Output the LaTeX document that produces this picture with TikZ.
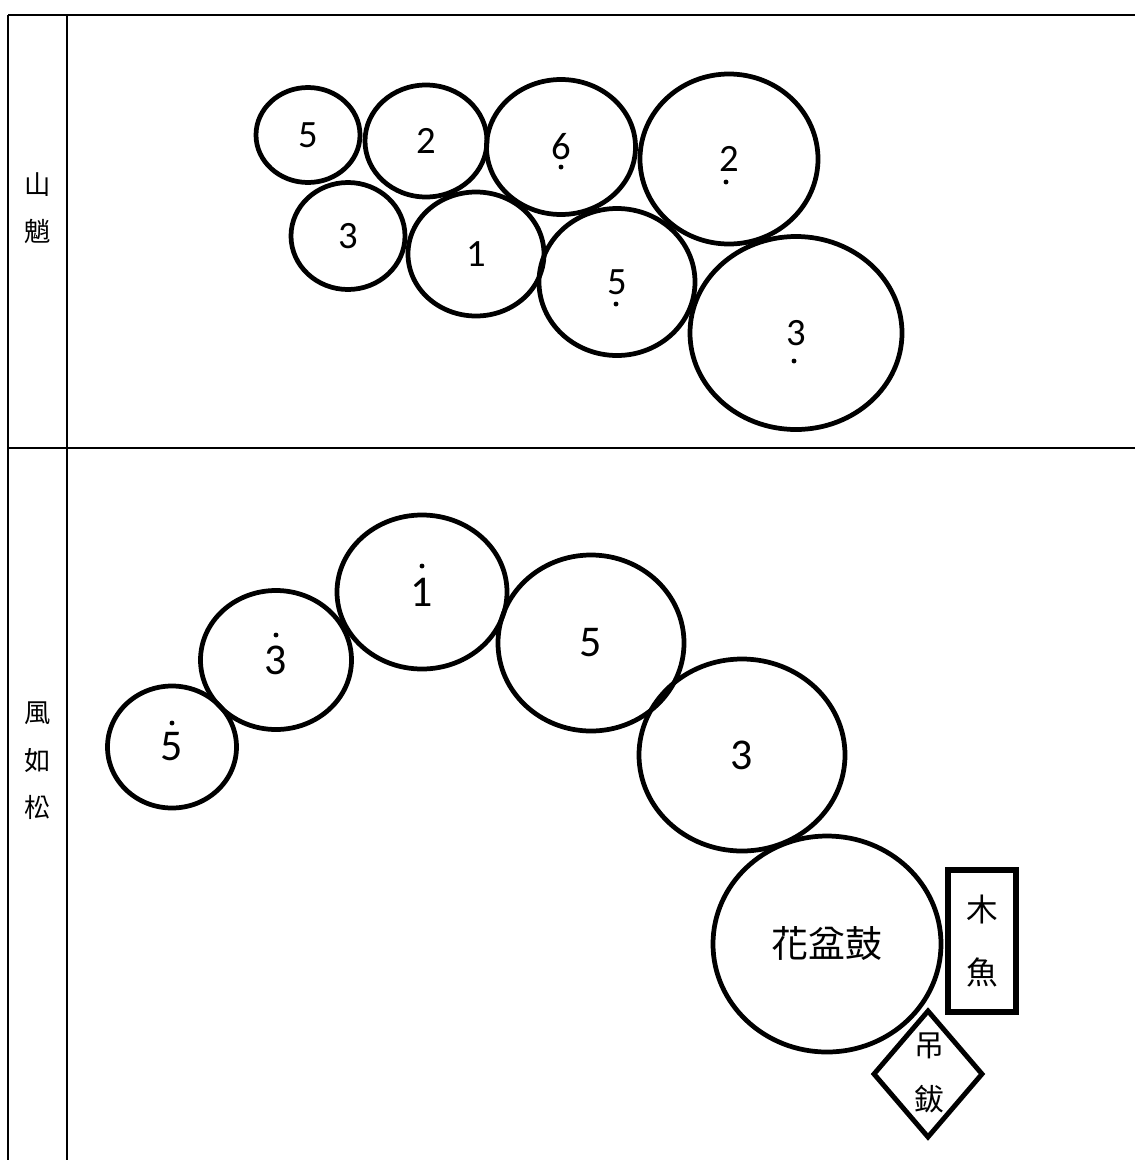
\documentclass[tikz,border=0pt]{standalone}
\usepackage{fontspec}
\setmainfont{Carlito}
\newfontfamily\cjk{Noto Sans CJK TC}
\usetikzlibrary{shapes.geometric,calc}

\begin{document}
\begin{tikzpicture}[x=0.02cm,y=-0.02cm,
    ring/.style 2 args={ellipse, draw, line width=2.7pt, inner sep=0pt,
        minimum width=#1*0.02cm, minimum height=#2*0.02cm,
        font=\fontsize{22}{22}\selectfont},
    bigdigit/.style={font=\fontsize{25}{25}\selectfont},
    rowlabel/.style={align=center, font=\cjk\fontsize{15}{27}\selectfont},
    rule/.style={line width=1.2pt}]
    \useasboundingbox (0,0) rectangle (1135,1160);

    % 1. Table rules
    \draw[rule] (8,15) -- (1135,15);
    \draw[rule] (8,448) -- (1135,448);
    \draw[rule] (8,15) -- (8,1160);
    \draw[rule] (67,15) -- (67,1160);

    % 2. Row labels
    \node[rowlabel] (lab1) at (38,208) {山\\魈};
    \node[rowlabel] (lab2) at (38,761) {風\\如\\松};

    % 3. First row: two bands of drums
    \node[ring={104}{95}]  (a1) at (308,135) {5};
    \node[ring={122}{112}] (a2) at (426,141) {2};
    \node[ring={149}{135}] (a3) at (561,147) {6};
    \node[ring={178}{170}] (a4) at (729,159) {2};
    \node[ring={114}{107}] (b1) at (348,236) {3};
    \node[ring={136}{124}] (b2) at (476,254) {1};
    \node[ring={156}{147}] (b3) at (617,282) {5};
    \node[ring={212}{193}] (b4) at (796,333) {3};
    % low octave dots
    \fill ($(a3)+(0,20)$) circle (1.4pt);
    \fill ($(a4)+(-3,23)$) circle (1.4pt);
    \fill ($(b3)+(-1,22)$) circle (1.4pt);
    \fill ($(b4)+(-2,28)$) circle (1.4pt);

    % 4. Second row: arc of drums
    \node[ring={129}{122},bigdigit] (c1) at (172,747) {5};
    \node[ring={151}{139},bigdigit] (c2) at (276,660) {3};
    \node[ring={170}{154},bigdigit] (c3) at (422,592) {1};
    \node[ring={186}{176},bigdigit] (c4) at (591,643) {5};
    \node[ring={206}{192},bigdigit] (c5) at (742,755) {3};
    \node[ring={228}{216},font=\cjk\fontsize{21}{21}\selectfont] (drum) at (827,944) {花盆鼓};
    % high octave dots
    \fill ($(c1)+(0,-24)$) circle (1.4pt);
    \fill ($(c2)+(0,-25)$) circle (1.4pt);
    \fill ($(c3)+(0,-26)$) circle (1.4pt);

    % 5. Wood block and cymbals
    \node[draw, line width=3.2pt, minimum width=68*0.02cm, minimum height=142*0.02cm,
        align=center, font=\cjk\fontsize{18}{36}\selectfont] (block) at (982,941) {木\\魚};
    \node[diamond, draw, line width=2.8pt, inner sep=0pt,
        minimum width=110*0.02cm, minimum height=128*0.02cm] (cymb) at (928,1074) {};
    \node[align=center, font=\cjk\fontsize{17}{31}\selectfont] (cymbtxt) at (929,1073) {吊\\鈸};
\end{tikzpicture}
\end{document}
